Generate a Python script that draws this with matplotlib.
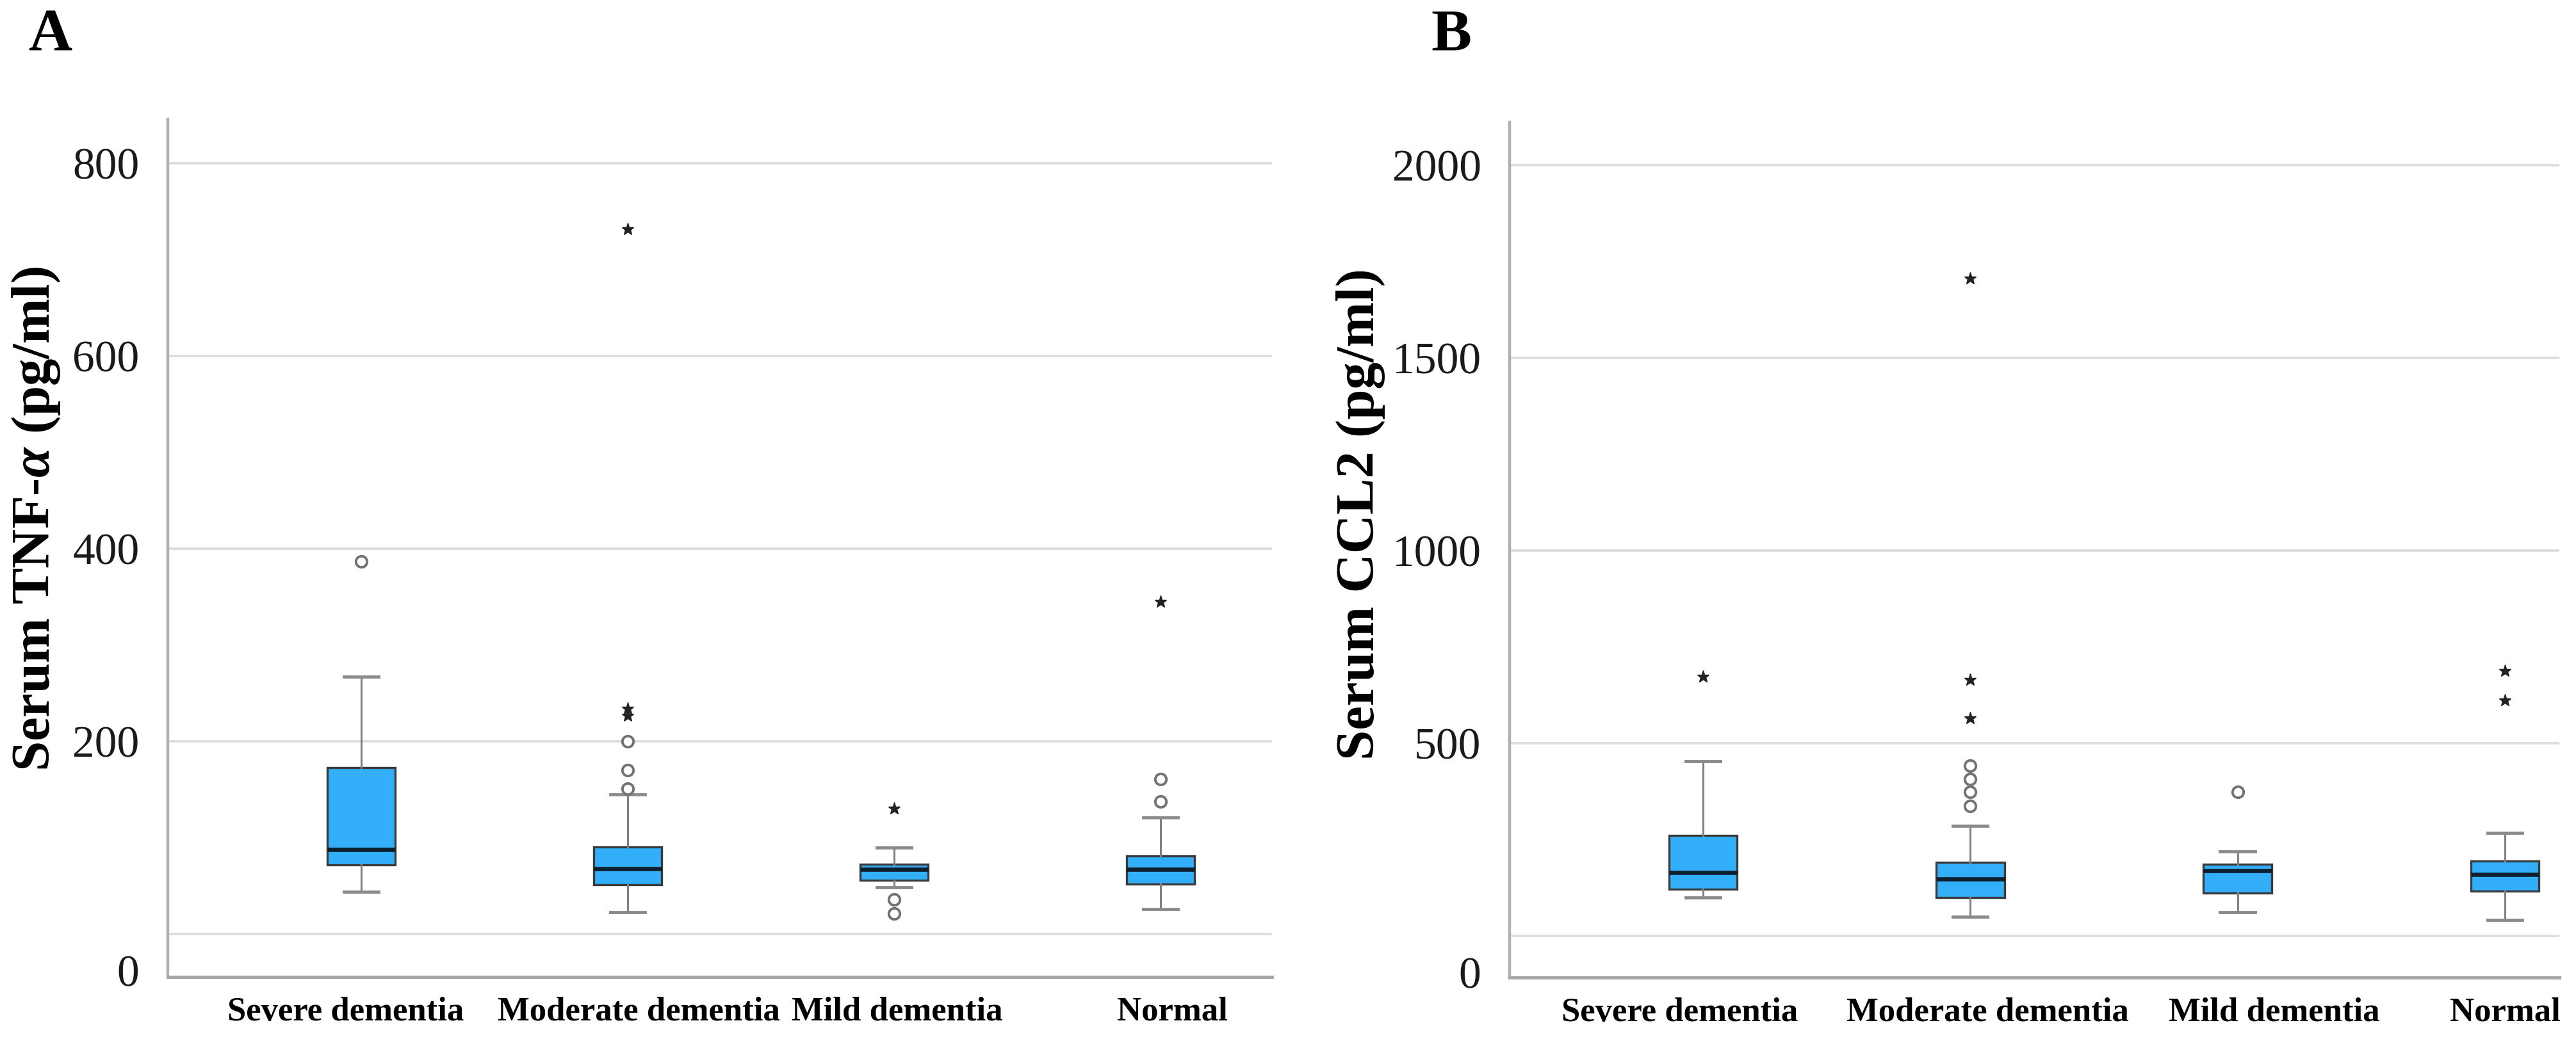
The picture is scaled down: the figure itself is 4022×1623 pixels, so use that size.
import matplotlib
matplotlib.use("Agg")
import matplotlib.pyplot as plt
from matplotlib.transforms import ScaledTranslation

# ---------------- data ----------------
categories = ["Severe dementia", "Moderate dementia", "Mild dementia", "Normal"]

# Panel A: Serum TNF-alpha (pg/ml)
tnf_q1 = [71.5, 51.3, 55.7, 51.6]
tnf_med = [87.9, 67.5, 67.2, 67.2]
tnf_q3 = [172.6, 90.3, 72.5, 81.2]
tnf_whislo = [43.6, 22.8, 48.8, 26.1]
tnf_whishi = [267.4, 144.7, 89.5, 121.3]
tnf_outliers = [[387], [151, 170, 200], [36, 21], [137.6, 161]]
tnf_extremes = [[], [227, 234, 731.6], [130], [345]]
tnf_ticks = [0, 200, 400, 600, 800]

# Panel B: Serum CCL2 (pg/ml)
ccl_q1 = [121, 99, 110.5, 117]
ccl_med = [164, 147, 170, 160]
ccl_q3 = [260, 191, 186, 194]
ccl_whislo = [99, 50, 61, 41]
ccl_whishi = [454, 286, 219, 268]
ccl_outliers = [[], [337, 374, 407, 441], [374], []]
ccl_extremes = [[673], [565, 665, 1706], [], [612, 688]]
ccl_ticks = [0, 500, 1000, 1500, 2000]

# ---------------- style ----------------
plt.rcParams['mathtext.fontset'] = 'custom'
plt.rcParams['mathtext.it'] = 'Liberation Serif:italic:bold'
plt.rcParams['mathtext.rm'] = 'Liberation Serif:bold'
plt.rcParams['mathtext.bf'] = 'Liberation Serif:bold'

W, H = 4023, 1623
DPI = 100
fig = plt.figure(figsize=(W / DPI, H / DPI), dpi=DPI)

BOX_FACE = '#33AFFA'
BOX_EDGE = '#3a3a3a'
MED_COL = '#0d1f2d'
WHISK_COL = '#808080'
GRID_COL = '#dcdcdc'
SPINE_COL = '#b0b0b0'
TICK_FONT = dict(family='Liberation Serif', size=50, color='#1a1a1a')
CAT_FONT = dict(family='Liberation Serif', size=38, weight='bold', color='black')


def panel(rect, xlim, ylim, ticks, q1, med, q3, lo, hi, outl, extr, lbl_shift):
    ax = fig.add_axes(rect)
    pos = list(range(1, len(categories) + 1))
    stats = [dict(label=c, q1=a, med=m, q3=b, whislo=l, whishi=h, fliers=[])
             for c, a, m, b, l, h in zip(categories, q1, med, q3, lo, hi)]
    ax.bxp(stats, positions=pos, widths=0.255, capwidths=0.13,
           showfliers=False, patch_artist=True,
           boxprops=dict(facecolor=BOX_FACE, edgecolor=BOX_EDGE, linewidth=2.4),
           medianprops=dict(color=MED_COL, linewidth=4.8),
           whiskerprops=dict(color=WHISK_COL, linewidth=2.2),
           capprops=dict(color='#8a8a8a', linewidth=3.5))
    for p, vals in zip(pos, outl):
        ax.plot([p] * len(vals), vals, 'o', ms=12.5, mfc='white', mec='#737373',
                mew=2.8, ls='none', zorder=4)
    for p, vals in zip(pos, extr):
        ax.plot([p] * len(vals), vals, '*', ms=14, color='#222222',
                ls='none', zorder=4)

    ax.set_xlim(*xlim)
    ax.set_ylim(*ylim)
    ax.set_axisbelow(True)
    ax.yaxis.grid(True, color=GRID_COL, linewidth=2.6)
    ax.xaxis.grid(False)
    for s in ('top', 'right'):
        ax.spines[s].set_visible(False)
    ax.spines['left'].set_color(SPINE_COL)
    ax.spines['left'].set_linewidth(3.2)
    ax.spines['bottom'].set_color('#a6a6a6')
    ax.spines['bottom'].set_linewidth(3.6)

    ax.set_yticks(ticks)
    ax.set_yticklabels(['' if t == 0 else str(t) for t in ticks], **TICK_FONT)
    ax.tick_params(axis='y', length=0, pad=32)
    ax.annotate('0', xy=(0, 0), xycoords=('axes fraction', 'data'),
                xytext=(-45, -57), textcoords='offset pixels',
                ha='right', va='center_baseline', **TICK_FONT)

    ax.set_xticks(pos)
    ax.set_xticklabels(categories, **CAT_FONT)
    ax.tick_params(axis='x', length=0, pad=22)
    for lbl, dx in zip(ax.get_xticklabels(), lbl_shift):
        lbl.set_transform(lbl.get_transform() +
                          ScaledTranslation(dx / DPI, 0, fig.dpi_scale_trans))
    ax.set_facecolor('white')
    return ax


# axes rectangles in figure fraction (from pixel geometry)
axA = panel([262 / W, 1 - 1526 / H, (1986 - 262) / W, (1526 - 186) / H],
            (0.274, 4.418), (-44.5, 846.1), tnf_ticks,
            tnf_q1, tnf_med, tnf_q3, tnf_whislo, tnf_whishi,
            tnf_outliers, tnf_extremes, [-24, 17, 5, 18])
axB = panel([2357 / W, 1 - 1527 / H, (3996 - 2357) / W, (1527 - 191) / H],
            (0.276, 4.204), (-108, 2111), ccl_ticks,
            ccl_q1, ccl_med, ccl_q3, ccl_whislo, ccl_whishi,
            ccl_outliers, ccl_extremes, [-36, 27, 57, 0])

# y-axis titles
fig.text(57 / W, 1 - 810 / H, r'Serum TNF-$\alpha$ (pg/ml)', rotation=90,
         ha='center', va='center', family='Liberation Serif', weight='bold',
         size=61, color='black')
fig.text(2124 / W, 1 - 803 / H, 'Serum CCL2 (pg/ml)', rotation=90,
         ha='center', va='center', family='Liberation Serif', weight='bold',
         size=61, color='black')

# panel letters
fig.text(78 / W, 1 - 56 / H, 'A', ha='center', va='center',
         family='Liberation Serif', weight='bold', size=68)
fig.text(2266 / W, 1 - 56 / H, 'B', ha='center', va='center',
         family='Liberation Serif', weight='bold', size=68)

fig.savefig('out.png', dpi=DPI, facecolor='white')
